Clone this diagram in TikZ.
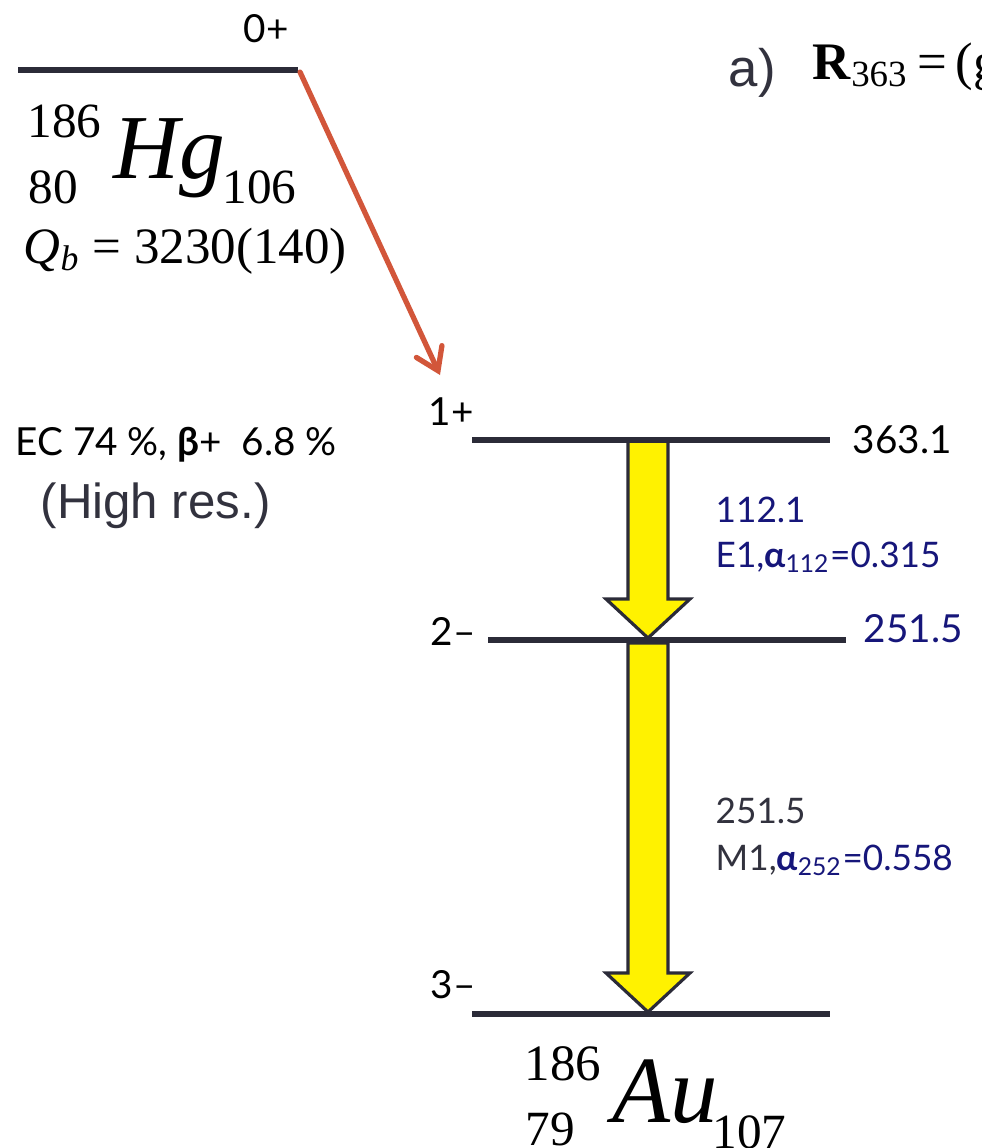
\documentclass[tikz,border=0pt]{standalone}
\usepackage{fontspec}
\setmainfont{Liberation Serif}
\newfontfamily\handfont{Lato}
\newfontfamily\arialfont{Liberation Sans}
\usetikzlibrary{calc, arrows.meta}

\definecolor{levelgray}{RGB}{43,43,56}
\definecolor{decayred}{RGB}{210,86,58}
\definecolor{navyblue}{RGB}{22,22,122}
\definecolor{textgray}{RGB}{50,50,62}

\begin{document}
\begin{tikzpicture}[x=0.01cm, y=-0.01cm,
    level/.style={line width=1.7pt, draw=levelgray},
    decay/.style={line width=1.5pt, draw=decayred, line cap=round,
        -{Straight Barb[length=6pt, width=8pt, line cap=round]}},
    gammabox/.style={fill=yellow, draw=levelgray, line width=0.9pt},
    lbl/.style={inner sep=0pt, anchor=base west, font=\handfont\fontsize{10}{12}\selectfont},
    spin/.style={lbl, font=\handfont\fontsize{11}{13}\selectfont},
    nuc/.style={inner sep=0pt, anchor=base west, font=\fontsize{14}{16}\selectfont},
    big/.style={inner sep=0pt, anchor=base west, font=\itshape\fontsize{26}{28}\selectfont},
    sans/.style={inner sep=0pt, anchor=base west, text=textgray, font=\arialfont\fontsize{14}{16}\selectfont}]
    \useasboundingbox (0,0) rectangle (982,1148);
    \clip (0,0) rectangle (982,1148);

    % Mức của Hg
    \coordinate (hgL) at (18,70);
    \coordinate (hgR) at (298,70);
    \node[spin] (hgspin) at (243,42) {0+};
    \node[nuc] (hgA) at (27,137) {186};
    \node[nuc] (hgZ) at (28,203) {80};
    \node[big] (hg) at (113,178) {Hg};
    \node[nuc] (hgN) at (222,203) {106};
    \node[nuc, font=\fontsize{14.5}{16}\selectfont] (qb) at (23,263) {\textit{Q}\textsubscript{\textit{b}} = 3230(140)};
    \node[sans, font=\arialfont\fontsize{15}{17}\selectfont] (part) at (728,86) {a)};
    \node[nuc, font=\fontsize{15}{17}\selectfont] (ratio) at (812,79) {\textbf{R}\textsubscript{363}\,=\,(g};
    \node[spin] (ec) at (15,455) {EC 74 \%, {\bfseries β}+\ \ 6.8 \%};
    \node[sans] (hires) at (40,518) {(High res.)};

    % Các mức của Au
    \coordinate (aL) at (472,440);  \coordinate (aR) at (830,440);
    \coordinate (bL) at (488,640);  \coordinate (bR) at (846,640);
    \coordinate (cL) at (472,1014); \coordinate (cR) at (830,1014);
    \coordinate (g1s) at (648,441); \coordinate (g1e) at (648,638);
    \coordinate (g2s) at (648,643); \coordinate (g2e) at (648,1012);
    \coordinate (ecend) at (440,375);

    % Chuyển dời gamma
    \foreach \s/\e in {g1s/g1e, g2s/g2e}
        \draw[gammabox] ($(\s)+(-20,0)$) -- ($(\e)+(-20,-39)$) -- ($(\e)+(-42,-39)$)
            -- (\e) -- ($(\e)+(42,-39)$) -- ($(\e)+(20,-39)$) -- ($(\s)+(20,0)$) -- cycle;

    \draw[level] (hgL) -- (hgR);
    \draw[level] (aL) -- (aR);
    \draw[level] (bL) -- (bR);
    \draw[level] (cL) -- (cR);
    \draw[decay] ($(hgR)+(2,2)$) -- (ecend);

    \node[spin] (spinA) at (428,425) {1+};
    \node[spin] (enA) at (852,453) {363.1};
    \node[spin] (spinB) at (430,645) {2–};
    \node[spin, text=navyblue] (enB) at (863,642) {251.5};
    \node[spin] (spinC) at (430,998) {3–};
    \node[lbl, text=navyblue] (gA) at (715,522) {112.1};
    \node[lbl, text=navyblue] (gAmult) at (715,567) {E1,{\bfseries α}\textsubscript{112}=0.315};
    \node[lbl, text=textgray] (gB) at (715,823) {251.5};
    \node[lbl, text=textgray] (gBmult) at (715,870) {M1,\textcolor{navyblue}{{\bfseries α}\textsubscript{252}=0.558}};

    \node[nuc, font=\fontsize{14.5}{16}\selectfont] (auA) at (524,1080) {186};
    \node[nuc] (auZ) at (525,1145) {79};
    \node[big, font=\itshape\fontsize{27}{29}\selectfont] (au) at (612,1122) {Au};
    \node[nuc] (auN) at (712,1148) {107};
\end{tikzpicture}
\end{document}
